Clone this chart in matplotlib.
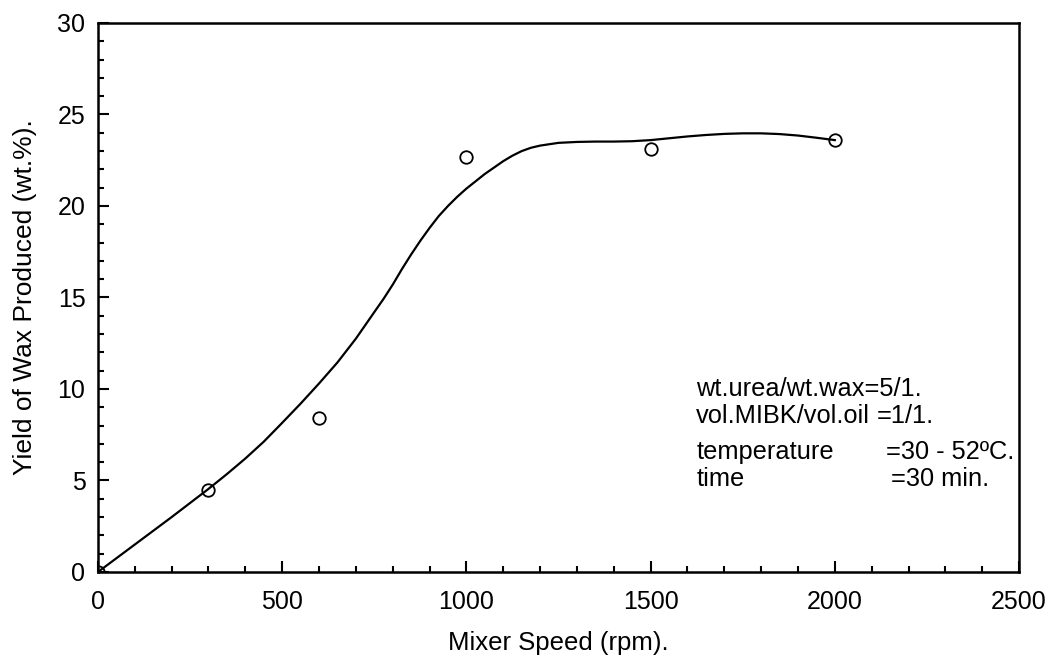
#!/usr/bin/env python3
"""Wax yield vs mixer speed."""

import matplotlib

matplotlib.use("Agg")
import matplotlib.pyplot as plt
from matplotlib.ticker import MultipleLocator

# measured points
speed_rpm = [0, 300, 600, 1000, 1500, 2000]
yield_pct = [0.0, 4.5, 8.4, 22.65, 23.1, 23.6]

# fitted curve
curve_rpm = [0, 100, 200, 300, 350, 400, 450, 500, 550, 600, 650, 700, 750, 775, 800,
             825, 850, 875, 900, 925, 950, 975, 1000, 1025, 1050, 1075, 1100, 1125,
             1150, 1175, 1200, 1250, 1300, 1350, 1400, 1450, 1500, 1550, 1600, 1650,
             1700, 1750, 1800, 1850, 1900, 1950, 2000]
curve_pct = [0.0, 1.5, 3.0, 4.54, 5.35, 6.2, 7.12, 8.15, 9.2, 10.3, 11.45, 12.75, 14.2,
             14.92, 15.7, 16.55, 17.35, 18.1, 18.8, 19.45, 20.0, 20.5, 20.95, 21.35,
             21.75, 22.1, 22.45, 22.75, 23.0, 23.18, 23.3, 23.45, 23.5, 23.52, 23.52,
             23.54, 23.6, 23.7, 23.8, 23.88, 23.94, 23.97, 23.97, 23.93, 23.85, 23.73,
             23.6]

notes = [
    ("wt.urea/wt.wax=5/1.", 1624, 10.0),
    ("vol.MIBK/vol.oil", 1624, 8.52),
    ("=1/1.", 2115, 8.52),
    ("temperature", 1624, 6.56),
    ("=30 - 52ºC.", 2139, 6.56),
    ("time", 1624, 5.08),
    ("=30 min.", 2153, 5.08),
]

plt.rcParams["font.family"] = ["Liberation Sans", "DejaVu Sans"]
plt.rcParams["font.size"] = 18

fig = plt.figure(figsize=(10.51, 6.57), dpi=100)
ax = fig.add_axes([0.0932, 0.1294, 0.8764, 0.8356])

ax.plot(curve_rpm, curve_pct, color="black", lw=1.6)
ax.plot(speed_rpm, yield_pct, "o", mfc="none", mec="black", ms=9, mew=1.3)

for label, x, y in notes:
    ax.text(x, y, label, fontsize=18.3, va="center", ha="left")

ax.set_xlim(0, 2500)
ax.set_ylim(0, 30)
ax.xaxis.set_major_locator(MultipleLocator(500))
ax.xaxis.set_minor_locator(MultipleLocator(100))
ax.yaxis.set_major_locator(MultipleLocator(5))
ax.yaxis.set_minor_locator(MultipleLocator(1))
ax.tick_params(which="both", direction="in", top=False, right=False, width=1.5, labelsize=18)
ax.tick_params(which="major", length=8)
ax.tick_params(which="minor", length=4)
ax.tick_params(axis="x", which="major", pad=13)
ax.tick_params(axis="y", which="major", pad=9)
for side in ax.spines.values():
    side.set_linewidth(1.8)

ax.set_xlabel("Mixer Speed (rpm).", fontsize=18.5, labelpad=12)
ax.set_ylabel("Yield of Wax Produced (wt.%).", fontsize=19, labelpad=15)

fig.savefig("out.png", dpi=100)
